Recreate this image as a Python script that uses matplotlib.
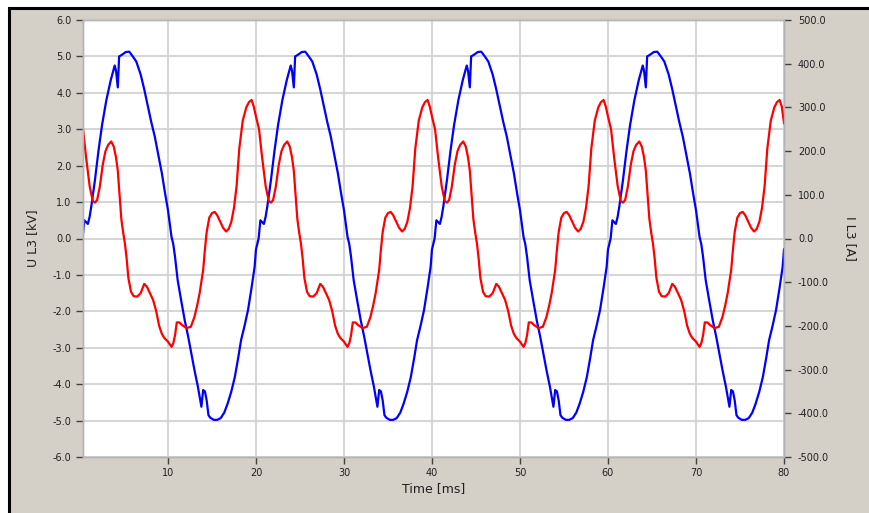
import numpy as np
import matplotlib
matplotlib.use("Agg")
import matplotlib.pyplot as plt
from matplotlib.patches import Rectangle

# One steady-state cycle (20 ms), repeated 4x.
PERIOD_MS = 20.0
CYCLE_STARTS_MS = [0, 20, 40, 60]

# U L3 [kV] (blue), phase time in ms within a cycle
u_phase_ms = [0.3, 0.5, 0.7, 0.9, 1.1, 1.3, 1.7, 2.1, 2.5, 3.0, 3.5, 3.95,
              4.1, 4.3, 4.45, 4.8, 5.2, 5.6, 6.0, 6.4, 6.9, 7.3, 7.7, 8.1,
              8.5, 8.9, 9.3, 9.7, 10.0, 10.4, 10.6, 10.8, 11.1, 11.5, 11.9,
              12.3, 12.65, 13.0, 13.4, 13.6, 13.8, 14.0, 14.2, 14.4, 14.6,
              14.8, 15.2, 15.6, 16.0, 16.4, 16.8, 17.2, 17.6, 18.0, 18.3,
              18.7, 19.1, 19.5, 19.85, 20.0]
u_kv = [0.0, 0.5, 0.45, 0.4, 0.6, 0.9, 1.6, 2.4, 3.1, 3.8, 4.35, 4.75,
        4.6, 4.15, 5.0, 5.05, 5.12, 5.13, 5.0, 4.86, 4.5, 4.1, 3.65, 3.2,
        2.8, 2.3, 1.8, 1.2, 0.78, 0.05, -0.15, -0.5, -1.14, -1.7, -2.24,
        -2.7, -3.15, -3.6, -4.07, -4.35, -4.62, -4.16, -4.2, -4.45, -4.85,
        -4.92, -4.98, -4.98, -4.93, -4.78, -4.52, -4.2, -3.8, -3.25, -2.8,
        -2.4, -1.96, -1.35, -0.77, -0.3]

# I L3 [A] (red)
i_phase_ms = [0.0, 0.35, 0.7, 1.1, 1.45, 1.7, 1.95, 2.25, 2.6, 2.9, 3.2,
              3.55, 3.85, 4.1, 4.3, 4.5, 4.7, 4.9, 5.1, 5.3, 5.5, 5.8, 6.1,
              6.5, 6.9, 7.3, 7.6, 7.95, 8.3, 8.65, 9.0, 9.3, 9.6, 10.0, 10.4,
              10.6, 10.8, 11.0, 11.3, 11.6, 12.1, 12.6, 13.0, 13.3, 13.6,
              14.0, 14.2, 14.4, 14.7, 15.0, 15.3, 15.6, 15.9, 16.25, 16.6,
              16.9, 17.2, 17.5, 17.8, 18.1, 18.5, 18.9, 19.2, 19.5, 19.75]
i_a = [279, 250, 185, 120, 86, 82, 88, 118, 170, 200, 214,
       222, 210, 185, 155, 100, 45, 15, -10, -45, -90, -122, -132,
       -133, -125, -104, -110, -125, -140, -165, -200, -218, -228, -236, -248,
       -240, -222, -192, -192, -198, -205, -202, -180, -155, -125,
       -72, -25, 15, 48, 58, 61, 53, 40, 25, 16,
       22, 38, 70, 120, 205, 270, 300, 312, 317, 302]
I_END_MS, I_END_A = 80.0, 264

X_TICKS = [10, 20, 30, 40, 50, 60, 70, 80]
U_TICKS = np.arange(-6, 7, 1)
I_TICKS = np.arange(-500, 501, 100)

t_u = np.concatenate([np.array(u_phase_ms) + s for s in CYCLE_STARTS_MS])
v_u = np.tile(u_kv, len(CYCLE_STARTS_MS))
t_i = np.concatenate([np.array(i_phase_ms) + s for s in CYCLE_STARTS_MS] + [[I_END_MS]])
v_i = np.concatenate([np.tile(i_a, len(CYCLE_STARTS_MS)), [I_END_A]])

W, H = 869, 513
fig = plt.figure(figsize=(W / 100, H / 100), dpi=100, facecolor="white")

# grey dialog panel with black frame, in a background axes
bg = fig.add_axes([0, 0, 1, 1], zorder=-10)
bg.set_xlim(0, W)
bg.set_ylim(H, 0)
bg.axis("off")
bg.add_patch(Rectangle((9, 8), W + 20, H + 20, facecolor="#d4d0c8",
                       edgecolor="black", linewidth=2.2))

ax = fig.add_axes([82.6 / W, 56 / H, (784 - 82.6) / W, 437 / H])
ax.set_facecolor("white")
ax.plot(t_u, v_u, color="#0000ff", lw=1.6)
ax.set_xlim(0.3, 80)
ax.set_ylim(-6, 6)
ax.set_xticks(X_TICKS)
ax.set_xticklabels([str(x) for x in X_TICKS])
ax.set_yticks(U_TICKS)
ax.set_yticklabels([f"{v:.1f}" for v in U_TICKS])
ax.grid(True, color="#d2d2d2", lw=1.3)
ax.set_axisbelow(True)
ax.tick_params(axis="both", direction="out", length=5, width=1,
               color="#404040", labelsize=7, labelcolor="#202020", pad=3)
ax.set_xlabel("Time [ms]", fontsize=9, color="#202020", labelpad=3)
ax.set_ylabel("U L3 [kV]", fontsize=9, color="#202020", labelpad=10)

ax2 = ax.twinx()
ax2.plot(t_i, v_i, color="#ff0000", lw=1.6)
ax2.set_ylim(-500, 500)
ax2.set_yticks(I_TICKS)
ax2.set_yticklabels([f"{v:.1f}" for v in I_TICKS])
ax2.tick_params(axis="y", direction="out", length=5, width=1,
                color="#404040", labelsize=7, labelcolor="#202020", pad=5)
ax2.set_ylabel("I L3 [A]", fontsize=9, color="#202020", rotation=270,
               labelpad=20)

for a in (ax, ax2):
    for sp in a.spines.values():
        sp.set_color("#b4b4b4")
        sp.set_linewidth(1)

fig.savefig("out.png", dpi=100, facecolor=fig.get_facecolor())
